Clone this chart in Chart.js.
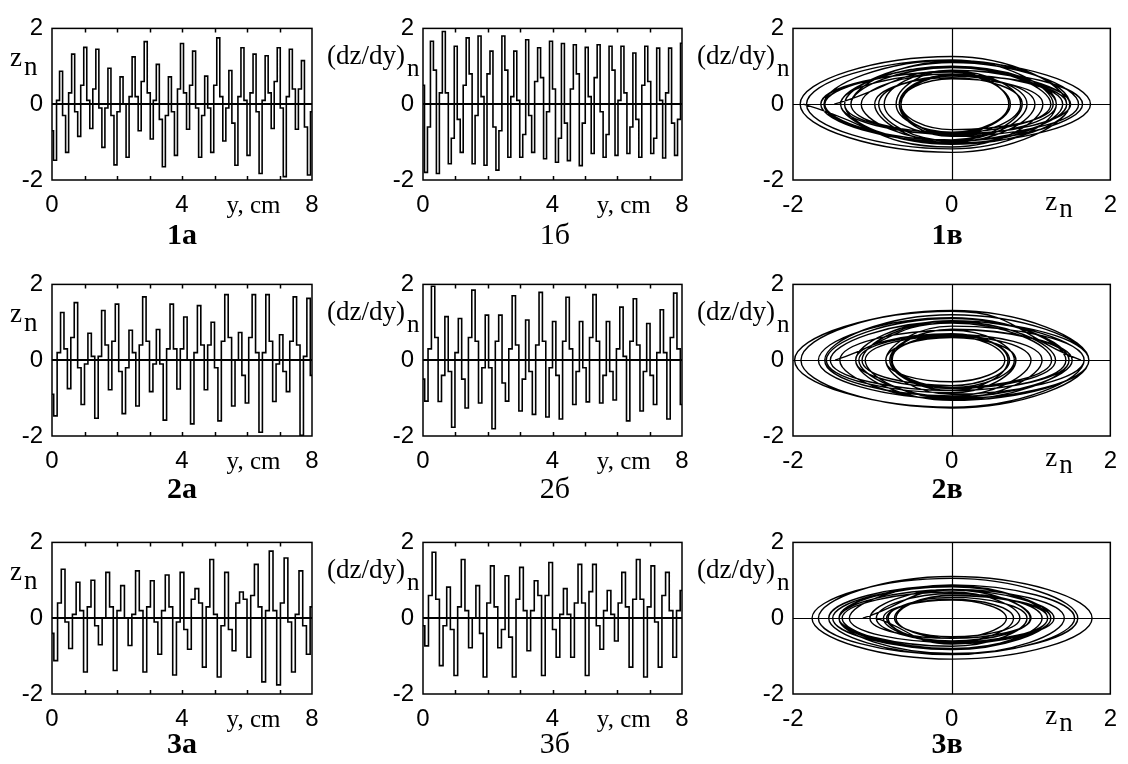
<!DOCTYPE html>
<html lang="ru">
<head>
<meta charset="utf-8">
<title>z_n, (dz/dy)_n</title>
<script src="https://cdn.jsdelivr.net/npm/chart.js@4.4.1/dist/chart.umd.min.js"></script>
<style>
  html, body { margin: 0; background: #fff; }
  body { position: relative; width: 1128px; height: 764px; overflow: hidden; }
  .panel { position: absolute; }
  .panel canvas { display: block; }
  .cap {
    position: absolute;
    font-family: "Liberation Serif", "Times New Roman", serif;
    font-size: 30px;
    line-height: 30px;
    color: #000;
    transform: translateX(-50%);
    white-space: nowrap;
  }
  .cap.b { font-weight: bold; }
</style>
</head>
<body>
<script>
// ── Axes ─────────────────────────────────────────────────────────
const Y_MIN = 0, Y_MAX = 8;          // y, cm
const V_MIN = -2, V_MAX = 2;         // z_n, (dz/dy)_n
const Y_TICK_MARKS = [1, 2, 3, 4, 5, 6, 7];
const Y_UNIT_POS = 6.2;              // where "y, cm" sits on the axis

// ── Row 1 ────────────────────────────────────────────────────────
// z_n: value before each trough, troughs, value after each trough, peaks
const zFalls1   = [-0.7, -0.3, -0.2, 0.1, -0.1, -0.3, 0.0, 0.2, 0.3, -0.4, -0.2, 0.3, -0.1, -0.1, 0.2, -0.5, 0.1, -0.2, 0.3, -0.1, 0.4, -0.6];
const zTroughs1 = [-1.48, -1.27, -0.85, -0.64, -1.14, -1.6, -1.4, -0.7, -0.92, -1.65, -1.35, -0.66, -1.4, -1.27, -0.97, -1.61, -1.35, -1.83, -0.64, -1.91, -0.66, -1.87];
const zRises1   = [0.1, 0.3, 0.5, 0.4, -0.1, -0.2, 0.2, 0.6, 0.1, -0.3, 0.4, 0.5, -0.3, 0.5, -0.1, 0.2, 0.3, 0.1, 0.6, 0.2, 0.4, -0.2];
const zPeaks1   = [0.87, 1.32, 1.5, 1.45, 0.95, 0.72, 1.25, 1.65, 1.05, 0.72, 1.6, 1.4, 0.74, 1.75, 0.89, 1.49, 1.32, 1.28, 1.49, 1.45, 1.15];
// (dz/dy)_n
const dFalls1   = [0.5, 0.9, 0.3, -0.4, 0.8, 0.2, -0.6, 0.9, 0.1, -0.3, 0.7, 0.4, -0.5, 0.8, 0.2, -0.2, 0.9, 0.3, -0.4, 0.6, 0.1, -0.5];
const dTroughs1 = [-1.8, -1.83, -1.57, -1.27, -1.57, -1.61, -1.74, -1.4, -1.4, -1.27, -1.44, -1.53, -1.49, -1.62, -1.3, -1.4, -1.35, -1.3, -1.4, -1.3, -1.42, -1.35];
const dRises1   = [-0.6, 0.3, -0.9, 0.5, -0.3, 0.8, -0.7, 0.2, -0.8, 0.6, -0.2, -0.9, 0.4, -0.5, 0.7, -0.8, 0.1, -0.6, 0.5, -0.9, 0.3, -0.4];
const dPeaks1   = [1.66, 1.92, 1.53, 1.75, 1.8, 1.4, 1.8, 1.4, 1.7, 1.49, 1.66, 1.6, 1.57, 1.5, 1.57, 1.53, 1.53, 1.35, 1.53, 1.48, 1.48, 1.61];
// phase plane: slope crossing z = 0 on the way up / down
const phTops1    = [0.88, 0.97, 0.9, 0.78, 0.8, 0.86, 1.0, 0.9, 0.74, 0.85, 1.1, 0.78, 0.8, 1.13, 0.7, 1.16, 1.0, 1.17, 0.75, 1.26, 0.67];
const phBottoms1 = [-0.8, -0.82, -0.8, -0.97, -0.96, -0.79, -0.74, -0.97, -1.0, -0.74, -0.85, -1.05, -0.75, -1.02, -0.94, -1.06, -1.18, -0.67, -1.27, -0.78, -1.13];

// ── Row 2 ────────────────────────────────────────────────────────
const zFalls2   = [-0.9, 0.3, -0.2, 0.1, 0.4, -0.3, 0.2, 0.5, -0.1, 0.3, 0.0, 0.4, -0.2, 0.6, -0.4, 0.2, 0.5, -0.3, 0.4, -0.4];
const zTroughs2 = [-1.47, -0.75, -1.17, -1.53, -0.78, -1.41, -1.21, -0.83, -1.58, -0.76, -1.68, -0.78, -1.6, -1.21, -1.13, -1.9, -1.09, -0.83, -1.98];
const zRises2   = [0.2, 0.6, -0.1, 0.1, 0.5, -0.2, 0.4, -0.1, 0.3, 0.3, 0.2, 0.4, 0.5, 0.0, 0.6, 0.2, -0.1, 0.5, 0.1];
const zPeaks2   = [1.26, 1.52, 0.71, 1.31, 1.48, 0.79, 1.67, 0.81, 1.48, 1.14, 1.44, 1.0, 1.73, 0.73, 1.73, 1.73, 0.67, 1.67, 1.63];
const dFalls2   = [-0.5, 0.6, -0.3, -0.5, 0.5, -0.2, -0.6, 0.4, -0.3, 0.5, -0.4, 0.3, -0.2, 0.5, -0.3, 0.1, 0.4, -0.4, 0.2, 0.3];
const dTroughs2 = [-1.08, -1.09, -1.77, -1.26, -1.13, -1.81, -1.08, -1.34, -1.43, -1.5, -1.55, -1.17, -1.1, -1.13, -1.05, -1.6, -1.34, -1.17, -1.55, -1.17];
const dRises2   = [0.3, -0.4, 0.2, 0.6, -0.2, 0.5, 0.3, -0.5, 0.4, -0.2, 0.5, -0.3, 0.6, -0.4, 0.3, 0.5, -0.3, 0.2, 0.6];
const dPeaks2   = [1.95, 1.15, 1.1, 1.85, 1.19, 1.19, 1.7, 1.06, 1.79, 1.02, 1.66, 1.02, 1.73, 1.02, 1.4, 1.62, 0.97, 1.33, 1.77];
const phTops2    = [0.98, 0.82, 0.68, 1.02, 0.81, 0.79, 1.04, 0.6, 1.1, 0.68, 1.12, 0.64, 1.2, 0.7, 1.03, 1.31, 0.64, 0.9, 1.29];
const phBottoms2 = [-0.72, -0.97, -0.8, -0.75, -1.04, -0.72, -0.9, -0.86, -0.8, -1.01, -0.8, -0.94, -1.06, -0.67, -1.26, -1.01, -0.57, -1.24];

// ── Row 3 ────────────────────────────────────────────────────────
const zFalls3   = [-0.4, -0.1, 0.2, -0.2, 0.3, 0.0, 0.2, -0.1, 0.3, -0.3, 0.4, 0.1, -0.3, 0.5, 0.3, 0.2, -0.1, -0.2];
const zTroughs3 = [-1.12, -0.8, -1.42, -0.7, -1.38, -0.72, -1.42, -0.95, -1.5, -0.82, -1.29, -1.55, -0.86, -1.03, -1.68, -1.76, -1.42, -0.95];
const zRises3   = [0.4, 0.1, 0.3, 0.0, 0.2, 0.1, 0.3, 0.2, -0.1, 0.5, 0.3, -0.2, 0.4, 0.6, 0.2, 0.4, 0.1, 0.3];
const zPeaks3   = [1.29, 0.95, 1.0, 1.21, 0.86, 1.25, 0.99, 1.14, 1.21, 0.78, 1.55, 1.21, 0.69, 1.42, 1.77, 1.59, 1.25];
const dFalls3   = [-0.2, 0.5, -0.3, 0.2, -0.4, 0.3, -0.5, 0.2, 0.6, -0.3, 0.1, 0.4, -0.2, 0.1, 0.3, 0.5, -0.1, 0.2];
const dTroughs3 = [-0.73, -1.25, -1.51, -0.78, -1.55, -0.78, -1.55, -0.86, -1.51, -1.03, -1.03, -1.51, -0.82, -0.6, -1.29, -1.55, -1.29, -1.03];
const dRises3   = [0.6, -0.2, 0.3, 0.0, 0.4, -0.3, 0.5, 0.2, 0.6, 0.1, 0.4, 0.7, 0.2, 0.4, 0.5, 0.3, 0.6, 0.2];
const dPeaks3   = [1.74, 0.82, 1.55, 0.86, 1.38, 1.12, 1.34, 0.99, 1.47, 0.78, 1.42, 1.42, 0.73, 1.21, 1.55, 1.38, 1.21, 0.73];
const phTops3    = [0.74, 0.55, 0.75, 0.6, 0.69, 0.61, 0.74, 0.65, 0.84, 0.5, 0.88, 0.86, 0.48, 0.76, 1.1, 1.05, 0.83];
const phBottoms3 = [-0.65, -0.74, -0.53, -0.8, -0.49, -0.83, -0.6, -0.82, -0.63, -0.64, -0.96, -0.64, -0.53, -0.96, -1.08, -0.93, -0.68];

// ── Layout ───────────────────────────────────────────────────────
const COLS = {
    a: { left: 52,  width: 260, padL: 50,  padR: 20, capX: 182 },
    b: { left: 423, width: 259, padL: 100, padR: 20, capX: 555 },
    v: { left: 793, width: 325, padL: 100, padR: 10, capX: 947 },
};
const ROWS = [
    { top: 25,  capTop: 219 },
    { top: 281, capTop: 473 },
    { top: 539, capTop: 728 },
];
const PLOT_H = 155, PAD_T = 20, PAD_B = 75;

const SANS  = '"Liberation Sans", Arial, sans-serif';
const SERIF = '"Liberation Serif", "Times New Roman", serif';

// ── Builders ─────────────────────────────────────────────────────
// samples along y: fall → trough → rise → peak, repeated
function buildSeries(falls, troughs, rises, peaks) {
    const vals = [];
    const n = Math.max(falls.length, troughs.length, rises.length, peaks.length);
    for (let k = 0; k < n; k++) {
        if (k < falls.length)   vals.push(falls[k]);
        if (k < troughs.length) vals.push(troughs[k]);
        if (k < rises.length)   vals.push(rises[k]);
        if (k < peaks.length)   vals.push(peaks[k]);
    }
    const step = (Y_MAX - Y_MIN) / (vals.length - 1);
    return vals.map((v, i) => ({ x: Y_MIN + i * step, y: v }));
}

// trajectory in the (z, dz/dy) plane: trough → top → peak → bottom → ...
function buildPhase(troughs, peaks, tops, bottoms) {
    const pts = [];
    for (let k = 0; k < troughs.length; k++) {
        pts.push({ x: troughs[k], y: 0 });
        if (k < tops.length)    pts.push({ x: 0, y: tops[k] });
        if (k < peaks.length)   pts.push({ x: peaks[k], y: 0 });
        if (k < bottoms.length) pts.push({ x: 0, y: bottoms[k] });
    }
    return pts;
}

// ── Frame, zero lines, inner ticks, axis names ───────────────────
const panelFrame = {
    id: "panelFrame",
    afterDatasetsDraw(chart, args, o) {
        const { ctx, chartArea: a, scales: { x, y } } = chart;
        ctx.save();
        ctx.strokeStyle = "#000";
        ctx.fillStyle = "#000";

        const y0 = Math.round(y.getPixelForValue(0));
        if (o.phase) {
            ctx.lineWidth = 1.2;
            const x0 = Math.round(x.getPixelForValue(0)) + 0.5;
            ctx.beginPath();
            ctx.moveTo(a.left, y0 + 0.5); ctx.lineTo(a.right, y0 + 0.5);
            ctx.moveTo(x0, a.top); ctx.lineTo(x0, a.bottom);
            ctx.stroke();
        } else {
            ctx.lineWidth = 2;
            ctx.beginPath();
            ctx.moveTo(a.left, y0); ctx.lineTo(a.right, y0);
            ctx.stroke();
            ctx.lineWidth = 1.5;
            ctx.beginPath();
            Y_TICK_MARKS.forEach(v => {
                const px = Math.round(x.getPixelForValue(v)) + 0.5;
                ctx.moveTo(px, a.top);    ctx.lineTo(px, a.top + 4);
                ctx.moveTo(px, a.bottom); ctx.lineTo(px, a.bottom - 4);
            });
            ctx.stroke();
        }

        ctx.lineWidth = 1.5;
        ctx.strokeRect(a.left, a.top, a.right - a.left, a.bottom - a.top);

        // vertical axis name
        ctx.textBaseline = "alphabetic";
        ctx.textAlign = "left";
        if (o.yName === "z") {
            ctx.font = "27px " + SERIF;
            ctx.fillText("z", a.left - 42, a.top + 38);
            ctx.fillText("n", a.left - 28, a.top + 47);
        } else {
            ctx.font = "27px " + SERIF;
            ctx.fillText("(dz/dy)", a.left - 96, a.top + 36);
            ctx.font = "25px " + SERIF;
            ctx.fillText("n", a.left - 16, a.top + 48);
        }

        // horizontal axis name
        if (o.phase) {
            ctx.font = "27px " + SERIF;
            ctx.fillText("z", a.right - 65, a.bottom + 30);
            ctx.fillText("n", a.right - 51, a.bottom + 37);
        } else {
            ctx.font = "25px " + SERIF;
            ctx.textAlign = "center";
            ctx.fillText("y, cm", x.getPixelForValue(Y_UNIT_POS), a.bottom + 33);
        }
        ctx.restore();
    }
};

// ── One panel ────────────────────────────────────────────────────
function makePanel(colKey, rowIdx, points, opts) {
    const col = COLS[colKey], row = ROWS[rowIdx];
    const phase = !!opts.phase;

    const box = document.createElement("div");
    box.className = "panel";
    box.style.left = (col.left - col.padL) + "px";
    box.style.top  = (row.top - PAD_T) + "px";
    const canvas = document.createElement("canvas");
    canvas.width  = col.padL + col.width + col.padR;
    canvas.height = PAD_T + PLOT_H + PAD_B;
    box.appendChild(canvas);
    document.body.appendChild(box);

    const tickFont = { family: SANS, size: 24, weight: "normal" };

    new Chart(canvas.getContext("2d"), {
        type: "scatter",
        data: {
            datasets: [{
                data: points,
                showLine: true,
                borderColor: "#000",
                borderWidth: phase ? 1.4 : 1.6,
                pointRadius: 0,
                pointHoverRadius: 0,
                stepped: phase ? false : "middle",
                tension: phase ? 0.5 : 0,
                fill: false,
            }]
        },
        options: {
            responsive: false,
            animation: false,
            events: [],
            layout: { padding: { left: 0, top: PAD_T, right: col.padR, bottom: 0 } },
            plugins: {
                legend:  { display: false },
                tooltip: { enabled: false },
                panelFrame: { phase, yName: opts.yName },
            },
            scales: {
                x: {
                    type: "linear",
                    min: phase ? V_MIN : Y_MIN,
                    max: phase ? V_MAX : Y_MAX,
                    afterFit: s => { s.height = PAD_B; },
                    grid:   { display: false, drawTicks: false },
                    border: { display: false },
                    ticks: {
                        stepSize: phase ? 2 : 4,
                        autoSkip: false,
                        maxRotation: 0,
                        padding: 11,
                        color: "#000",
                        font: tickFont,
                        callback: v => String(v),
                    },
                },
                y: {
                    type: "linear",
                    min: V_MIN,
                    max: V_MAX,
                    afterFit: s => { s.width = col.padL; },
                    grid:   { display: false, drawTicks: false },
                    border: { display: false },
                    ticks: {
                        stepSize: 2,
                        autoSkip: false,
                        padding: 9,
                        color: "#000",
                        font: tickFont,
                        callback: v => String(v),
                    },
                },
            },
        },
        plugins: [panelFrame],
    });

    const cap = document.createElement("div");
    cap.className = "cap" + (opts.bold ? " b" : "");
    cap.textContent = opts.caption;
    cap.style.left = col.capX + "px";
    cap.style.top  = row.capTop + "px";
    document.body.appendChild(cap);
}

// ── Grid of panels ───────────────────────────────────────────────
makePanel("a", 0, buildSeries(zFalls1, zTroughs1, zRises1, zPeaks1), { yName: "z", caption: "1а", bold: true });
makePanel("b", 0, buildSeries(dFalls1, dTroughs1, dRises1, dPeaks1), { yName: "dz", caption: "1б" });
makePanel("v", 0, buildPhase(zTroughs1, zPeaks1, phTops1, phBottoms1), { yName: "dz", phase: true, caption: "1в", bold: true });

makePanel("a", 1, buildSeries(zFalls2, zTroughs2, zRises2, zPeaks2), { yName: "z", caption: "2а", bold: true });
makePanel("b", 1, buildSeries(dFalls2, dTroughs2, dRises2, dPeaks2), { yName: "dz", caption: "2б" });
makePanel("v", 1, buildPhase(zTroughs2, zPeaks2, phTops2, phBottoms2), { yName: "dz", phase: true, caption: "2в", bold: true });

makePanel("a", 2, buildSeries(zFalls3, zTroughs3, zRises3, zPeaks3), { yName: "z", caption: "3а", bold: true });
makePanel("b", 2, buildSeries(dFalls3, dTroughs3, dRises3, dPeaks3), { yName: "dz", caption: "3б" });
makePanel("v", 2, buildPhase(zTroughs3, zPeaks3, phTops3, phBottoms3), { yName: "dz", phase: true, caption: "3в", bold: true });
</script>
</body>
</html>
